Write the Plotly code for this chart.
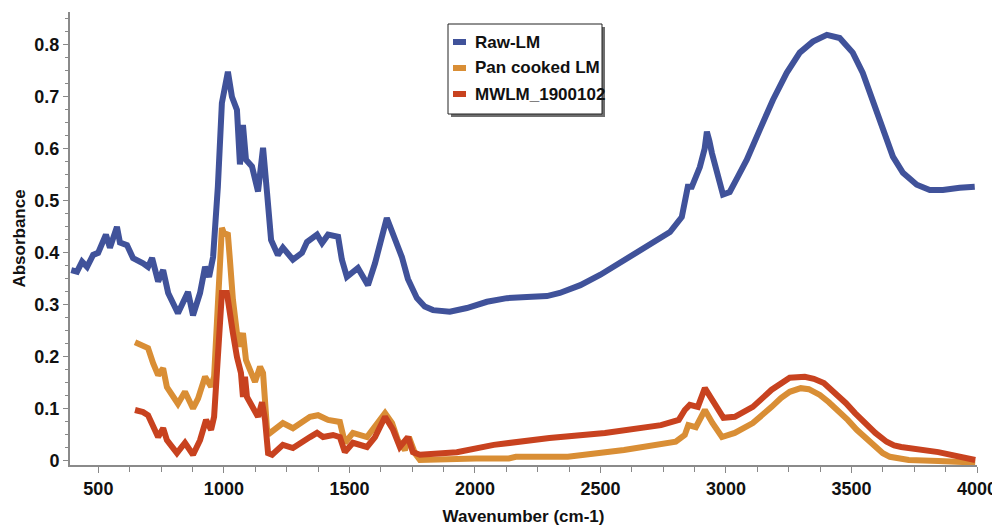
import plotly.graph_objects as go

# ---------------- data ----------------
raw_x = [392, 415, 435, 455, 479, 499, 530, 546, 574, 586, 614, 638, 678, 698, 714,
         738, 758, 778, 817, 857, 877, 905, 925, 941, 957, 976, 992, 1016, 1032, 1052,
         1064, 1076, 1088, 1112, 1136, 1156, 1172, 1188, 1215, 1235, 1275, 1311, 1331,
         1371, 1391, 1415, 1455, 1470, 1490, 1534, 1574, 1602, 1649, 1680, 1709, 1733,
         1769, 1800, 1833, 1900, 1968, 2048, 2127, 2207, 2287, 2338, 2420, 2500, 2545,
         2605, 2685, 2777, 2824, 2840, 2848, 2864, 2896, 2915, 2924, 2934, 2944, 2988,
         3015, 3047, 3083, 3135, 3187, 3242, 3294, 3346, 3402, 3453, 3505, 3545, 3585,
         3625, 3665, 3705, 3760, 3812, 3864, 3931, 3991]
raw_y = [0.367, 0.364, 0.383, 0.373, 0.396, 0.400, 0.435, 0.410, 0.450, 0.420, 0.415,
         0.390, 0.380, 0.373, 0.390, 0.345, 0.367, 0.323, 0.284, 0.325, 0.280, 0.323,
         0.373, 0.354, 0.392, 0.527, 0.688, 0.748, 0.700, 0.675, 0.570, 0.646, 0.579,
         0.566, 0.518, 0.602, 0.515, 0.425, 0.396, 0.410, 0.387, 0.400, 0.421, 0.435,
         0.419, 0.435, 0.431, 0.387, 0.354, 0.371, 0.338, 0.380, 0.467, 0.430, 0.392,
         0.350, 0.313, 0.297, 0.290, 0.287, 0.294, 0.306, 0.313, 0.315, 0.317, 0.323,
         0.338, 0.358, 0.371, 0.387, 0.412, 0.440, 0.469, 0.500, 0.527, 0.527, 0.565,
         0.600, 0.633, 0.615, 0.592, 0.512, 0.517, 0.546, 0.579, 0.637, 0.694, 0.746,
         0.785, 0.806, 0.819, 0.813, 0.785, 0.746, 0.694, 0.637, 0.585, 0.554, 0.531,
         0.521, 0.521, 0.525, 0.527]

pan_x = [646, 678, 698, 718, 738, 758, 773, 817, 845, 877, 897, 925, 949, 961, 976,
         992, 1000, 1016, 1024, 1036, 1052, 1064, 1076, 1088, 1104, 1124, 1144, 1156,
         1172, 1184, 1235, 1275, 1343, 1375, 1415, 1462, 1482, 1514, 1570, 1602, 1642,
         1670, 1693, 1721, 1737, 1761, 1781, 2004, 2135, 2163, 2370, 2594, 2800, 2836,
         2850, 2880, 2916, 2946, 2984, 3035, 3107, 3182, 3219, 3254, 3298, 3330, 3374,
         3410, 3447, 3485, 3521, 3558, 3595, 3625, 3653, 3728, 3846, 3993]
pan_y = [0.228, 0.220, 0.217, 0.188, 0.165, 0.178, 0.142, 0.110, 0.133, 0.101, 0.120,
         0.162, 0.143, 0.162, 0.310, 0.448, 0.438, 0.435, 0.387, 0.310, 0.246, 0.220,
         0.246, 0.194, 0.175, 0.152, 0.181, 0.169, 0.060, 0.054, 0.073, 0.063, 0.085,
         0.088, 0.079, 0.075, 0.035, 0.054, 0.046, 0.065, 0.092, 0.073, 0.040, 0.021,
         0.046, 0.015, 0.002, 0.005, 0.005, 0.008, 0.008, 0.021, 0.037, 0.050, 0.069,
         0.065, 0.098, 0.073, 0.046, 0.054, 0.073, 0.104, 0.121, 0.133, 0.140, 0.138,
         0.127, 0.113, 0.098, 0.079, 0.060, 0.044, 0.027, 0.015, 0.008, 0.002, 0.000,
         -0.003]

mw_x = [646, 678, 698, 718, 738, 758, 773, 813, 845, 877, 905, 929, 949, 961, 976,
        992, 1012, 1024, 1036, 1052, 1068, 1076, 1084, 1092, 1116, 1136, 1152, 1164,
        1176, 1192, 1235, 1275, 1343, 1371, 1395, 1435, 1462, 1482, 1514, 1570, 1602,
        1642, 1674, 1701, 1733, 1753, 1781, 1928, 2075, 2297, 2518, 2741, 2812, 2836,
        2856, 2888, 2916, 2946, 2990, 3035, 3107, 3182, 3219, 3254, 3314, 3350, 3390,
        3434, 3478, 3514, 3551, 3595, 3640, 3670, 3698, 3846, 3993]
mw_y = [0.098, 0.094, 0.088, 0.065, 0.046, 0.063, 0.040, 0.015, 0.035, 0.012, 0.040,
        0.079, 0.060, 0.085, 0.213, 0.323, 0.323, 0.277, 0.246, 0.200, 0.169, 0.123,
        0.162, 0.123, 0.102, 0.085, 0.113, 0.079, 0.015, 0.012, 0.031, 0.025, 0.046,
        0.054, 0.046, 0.050, 0.046, 0.017, 0.035, 0.027, 0.046, 0.085, 0.060, 0.027,
        0.046, 0.017, 0.012, 0.017, 0.031, 0.044, 0.054, 0.069, 0.079, 0.098, 0.108,
        0.104, 0.140, 0.117, 0.083, 0.085, 0.104, 0.137, 0.150, 0.160, 0.162, 0.158,
        0.150, 0.131, 0.111, 0.092, 0.073, 0.054, 0.037, 0.030, 0.027, 0.017, 0.002]

series_names = ["Raw-LM", "Pan cooked LM", "MWLM_1900102"]
series_colors = ["#40529a", "#d98e35", "#c8421f"]

x_ticks = [500, 1000, 1500, 2000, 2500, 3000, 3500, 4000]
y_ticks = [0, 0.1, 0.2, 0.3, 0.4, 0.5, 0.6, 0.7, 0.8]
y_tick_text = ["0", "0.1", "0.2", "0.3", "0.4", "0.5", "0.6", "0.7", "0.8"]

assert len(raw_x) == len(raw_y)
assert len(pan_x) == len(pan_y)
assert len(mw_x) == len(mw_y)

# ---------------- figure ----------------
NARROW = "Liberation Sans Narrow, Arial Narrow, sans-serif"
SANS = "Liberation Sans, Arial, sans-serif"

fig = go.Figure()
for xs, ys, name, col in zip([raw_x, pan_x, mw_x], [raw_y, pan_y, mw_y],
                             series_names, series_colors):
    fig.add_trace(go.Scatter(x=xs, y=ys, mode="lines", name=name,
                             line=dict(color=col, width=6),
                             showlegend=False))

# the page body has an 8px margin, so the figure is placed at (8, 8)
W, H = 992, 520
L, R, T, B = 62, 23, 4, 63
pw, ph = W - L - R, H - T - B
PLOT_LEFT_PAGE, PLOT_BOTTOM_PAGE = 70, 465


def px(x):
    return (x - PLOT_LEFT_PAGE) / pw


def py(y):
    return (PLOT_BOTTOM_PAGE - y) / ph


# custom legend box (with drop shadow)
shapes = [
    dict(type="rect", xref="paper", yref="paper",
         x0=px(451), x1=px(605), y0=py(117), y1=py(27),
         fillcolor="#6e6e6e", line=dict(width=0), layer="above"),
    dict(type="rect", xref="paper", yref="paper",
         x0=px(448), x1=px(602), y0=py(114), y1=py(24),
         fillcolor="white", line=dict(color="#222222", width=1), layer="above"),
]
annotations = []
for i, (name, col) in enumerate(zip(series_names, series_colors)):
    yy = 42 + 26 * i
    shapes.append(dict(type="line", xref="paper", yref="paper",
                       x0=px(453), x1=px(466), y0=py(yy), y1=py(yy),
                       line=dict(color=col, width=6), layer="above"))
    annotations.append(dict(xref="paper", yref="paper", x=px(473), y=py(yy),
                            xanchor="left", yanchor="middle", text=name,
                            showarrow=False,
                            font=dict(family=NARROW, size=17, color="#111111",
                                      weight="bold")))

fig.update_layout(
    width=W, height=H,
    margin=dict(l=L, r=R, t=T, b=B, autoexpand=False),
    paper_bgcolor="white", plot_bgcolor="white",
    shapes=shapes, annotations=annotations,
    showlegend=False,
    xaxis=dict(
        range=[387, 4000], tickvals=x_ticks, ticks="outside", ticklen=6,
        tickwidth=1, tickcolor="#888888",
        minor=dict(dtick=125, tick0=0, ticks="outside", ticklen=5,
                   tickcolor="#888888", showgrid=False),
        showline=True, linecolor="#8a8a8a", linewidth=2,
        showgrid=False, zeroline=False,
        tickfont=dict(family=NARROW, size=18, color="#111111", weight="bold"),
        title=dict(text="Wavenumber (cm-1)", standoff=13,
                   font=dict(family=NARROW, size=17, color="#111111",
                             weight="bold")),
    ),
    yaxis=dict(
        range=[-0.0077, 0.863], tickvals=y_ticks, ticktext=y_tick_text,
        ticks="outside", ticklen=5, tickwidth=1, tickcolor="#888888",
        minor=dict(dtick=0.025, tick0=0, ticks="outside", ticklen=3,
                   tickcolor="#888888", showgrid=False),
        showline=True, linecolor="#8a8a8a", linewidth=2,
        showgrid=False, zeroline=False,
        tickfont=dict(family=NARROW, size=18, color="#111111", weight="bold"),
        title=dict(text="Absorbance", standoff=4,
                   font=dict(family=SANS, size=17, color="#111111",
                             weight="bold")),
    ),
)

fig.write_html("out.html")
